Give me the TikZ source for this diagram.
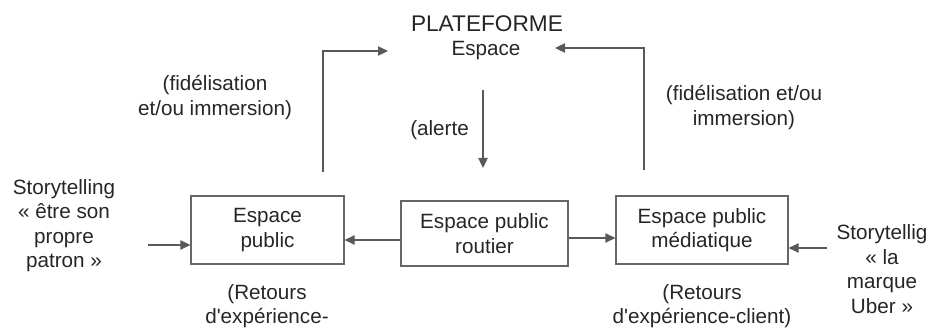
\documentclass[tikz,border=0pt]{standalone}
\usepackage{fontspec}
\setmainfont{Liberation Sans}
\usepackage{tikz}
\usetikzlibrary{arrows.meta, positioning}

\begin{document}
\begin{tikzpicture}[
        x=0.75pt, y=-0.75pt,
        every node/.style={text=black!85, align=center, inner sep=0pt,
            font=\fontsize{15.5}{18.4}\selectfont},
        espbox/.style={draw=black!60, line width=0.9pt, inner sep=0pt},
        conn/.style={draw=black!65, line width=0.9pt,
            -{Triangle[length=7.5pt, width=7pt]}},
    ]
    \useasboundingbox (0,0) rectangle (929,328);

    % plateforme en haut
    \node (plat) at (487,24) {\fontsize{17}{20}\selectfont PLATEFORME};
    \node (platesp) at (486,51) {Espace};
    \coordinate (platL) at (388,51);
    \coordinate (platR) at (555,48);

    % les trois espaces publics
    \node[espbox, minimum width={153*0.75pt}, minimum height={68*0.75pt}] (ep) at (267.5,230) {Espace\\public};
    \node[espbox, minimum width={167*0.75pt}, minimum height={65*0.75pt}] (epr) at (484.5,233.5) {Espace public\\routier};
    \node[espbox, minimum width={172*0.75pt}, minimum height={68*0.75pt}] (epm) at (702,230) {Espace public\\m\'ediatique};

    % textes
    \node (fidl) at (215,97.5) {(fid\'elisation\\et/ou immersion)};
    \node (fidr) at (744,107.5) {(fid\'elisation et/ou\\immersion)};
    \node[anchor=west] (alerte) at (410,130) {(alerte};
    \node (storyl) at (64,225.5) {Storytelling\\« \^etre son\\propre\\patron »};
    \node (storyr) at (882,269) {Storytellig\\« la\\marque\\Uber »};
    \node (retl) at (267,306) {(Retours\\d\textquotesingle exp\'erience-};
    \node (retr) at (702,306) {(Retours\\d\textquotesingle exp\'erience-client)};

    % points libres
    \coordinate (fl) at (323,172);
    \coordinate (fr) at (644,170);
    \coordinate (al) at (483,90);
    \coordinate (inl) at (148,245);
    \coordinate (inr) at (827,248);

    \draw[conn] (fl) |- (platL);
    \draw[conn] (fr) |- (platR);
    \draw[conn] (al) -- (al |- 0,168);
    \draw[conn] (inl) -- (ep.west |- inl);
    \draw[conn] (epr.west |- 0,240) -- (ep.east |- 0,240);
    \draw[conn] (epr.east |- 0,238) -- (epm.west |- 0,238);
    \draw[conn] (inr) -- (epm.east |- inr);
\end{tikzpicture}
\end{document}
